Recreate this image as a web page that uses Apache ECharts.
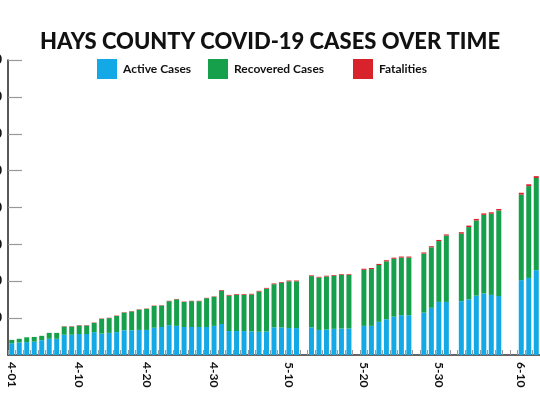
<!DOCTYPE html>
<html>
<head>
<meta charset="utf-8">
<script src="https://cdn.jsdelivr.net/npm/echarts@6/dist/echarts.min.js"></script>
<style>html,body{margin:0;padding:0;background:#fff}#c{width:540px;height:407px}</style>
</head>
<body>
<div id="c"></div>
<script>
const categories = ['4-01','4-02','4-03','4-04','4-05','4-06','4-07','4-08','4-09','4-10','4-11','4-13','4-14','4-15','4-16','4-17','4-18','4-19','4-20','4-21','4-22','4-23','4-24','4-25','4-27','4-28','4-29','4-30',
'5-01','5-02','5-03','5-04','5-05','5-06','5-07','5-08','5-09','5-10','5-11','5-12','5-13','5-14','5-15','5-16','5-17','5-18','5-19','5-20','5-21','5-22','5-23','5-24','5-25','5-26','5-27','5-28','5-29','5-30','5-31',
'6-01','6-02','6-03','6-04','6-05','6-06','6-07','6-08','6-09','6-10','6-11','6-12'];
const tickLabels = ['4-01','4-10','4-20','4-30','5-10','5-20','5-30','6-10'];
const active = [32,34,35,36,40,44,44,55,55,57,57,62,58,60,62,67,67,68,68,74,76,81,79,76,76,76,76,79,
84,65,65,65,64,63,64,75,75,73,73,null,75,68,69,71,72,72,null,79,79,90,97,104,108,108,null,115,128,144,144,
null,146,151,161,167,163,160,null,null,203,209,230];
const recovered = [9,10,13,13,12,16,16,22,22,23,23,25,40,40,44,48,51,55,57,59,58,65,72,68,70,70,78,79,
90,96,98,98,100,109,116,117,121,127,127,null,139,142,144,144,145,145,null,152,154,154,157,157,156,156,null,160,164,165,180,
null,183,196,204,213,220,232,null,null,232,249,250];
const fatalities = [0,0,0,0,0,0,0,1,1,1,1,1,1,1,1,1,1,1,1,1,1,1,1,1,1,1,1,1,
2,2,2,2,2,2,2,2,2,2,2,null,2,2,2,2,2,2,null,3,3,3,3,3,3,3,null,3,3,3,3,
null,4,4,4,4,4,4,null,null,5,5,5];
const yTicks = {min:0, max:800, interval:100};

const colors = {active:'#12a9e6', recovered:'#17a04c', fatal:'#d8232d'};
const font = 'Lato, "Open Sans", sans-serif';
const chart = echarts.init(document.getElementById('c'), null, {renderer:'canvas'});
function legendAt(name, left){
  return {data:[name], left:left, top:59, padding:0, itemWidth:20, itemHeight:20, itemGap:0,
    icon:'rect', textStyle:{fontFamily:font, fontWeight:'bold', fontSize:12, color:'#111', padding:[0,0,0,1]}};
}
chart.setOption({
  animation:false,
  title:{text:'HAYS COUNTY COVID-19 CASES OVER TIME', left:'center', top:26,
    textStyle:{fontFamily:font, fontWeight:900, fontSize:22, color:'#111'}},
  legend:[legendAt('Active Cases',97), legendAt('Recovered Cases',208), legendAt('Fatalities',353)],
  grid:{left:8, right:0, top:60, bottom:52, containLabel:false, outerBoundsMode:'none'},
  xAxis:{type:'category', data:categories, boundaryGap:true,
    axisLine:{lineStyle:{color:'#333', width:1.5}},
    axisTick:{show:true, inside:true, length:5, interval:0, lineStyle:{color:'#999', width:1}},
    axisLabel:{interval:(i,v)=>tickLabels.includes(v), rotate:-90, margin:7,
      fontFamily:font, fontWeight:'bold', fontSize:12, color:'#111'}},
  yAxis:{type:'value', min:yTicks.min, max:yTicks.max, interval:yTicks.interval,
    axisLine:{show:true, lineStyle:{color:'#222', width:1.5}},
    axisTick:{show:true, inside:true, length:14, lineStyle:{color:'#999', width:1.2}},
    splitLine:{show:false},
    axisLabel:{showMinLabel:false, margin:6, fontFamily:font, fontWeight:'bold', fontSize:13, color:'#111'}},
  series:[
    {name:'Active Cases', type:'bar', stack:'t', data:active, barWidth:5, itemStyle:{color:colors.active}},
    {name:'Recovered Cases', type:'bar', stack:'t', data:recovered, barWidth:5, itemStyle:{color:colors.recovered}},
    {name:'Fatalities', type:'bar', stack:'t', data:fatalities, barWidth:5, itemStyle:{color:colors.fatal}}
  ]
});
</script>
</body>
</html>
